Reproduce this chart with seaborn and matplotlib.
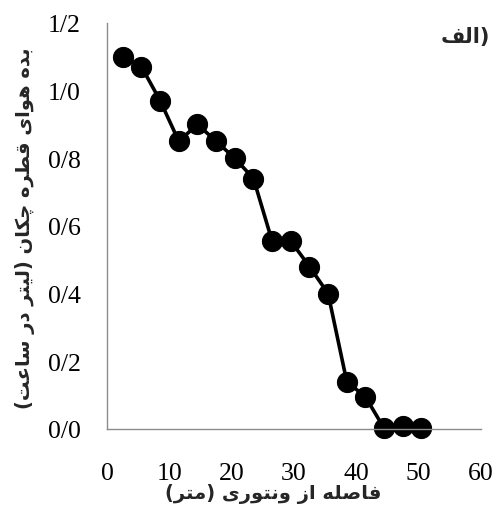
"""
emitter discharge vs distance from venturi
"""

import seaborn as sns
import matplotlib.pyplot as plt
from matplotlib.ticker import FuncFormatter, MultipleLocator

# data
distance_m = [2.5, 5.5, 8.5, 11.5, 14.5, 17.5, 20.5, 23.5, 26.5,
              29.5, 32.5, 35.5, 38.5, 41.5, 44.5, 47.5, 50.5]
discharge_lph = [1.10, 1.07, 0.97, 0.85, 0.90, 0.85, 0.80, 0.74, 0.555,
                 0.555, 0.48, 0.40, 0.14, 0.095, 0.002, 0.01, 0.002]

x_label = 'فاصله از ونتوری (متر)'
y_label = 'بده هوای قطره چکان (لیتر در ساعت)'
panel_label = 'الف'

axis_grey = '#8c8c8c'

# Arabic presentation forms: isolated, final, initial, medial
forms = {
    'ا': (0xFE8D, 0xFE8E, None, None),
    'ب': (0xFE8F, 0xFE90, 0xFE91, 0xFE92),
    'ت': (0xFE95, 0xFE96, 0xFE97, 0xFE98),
    'د': (0xFEA9, 0xFEAA, None, None),
    'ر': (0xFEAD, 0xFEAE, None, None),
    'ز': (0xFEAF, 0xFEB0, None, None),
    'س': (0xFEB1, 0xFEB2, 0xFEB3, 0xFEB4),
    'ص': (0xFEB9, 0xFEBA, 0xFEBB, 0xFEBC),
    'ط': (0xFEC1, 0xFEC2, 0xFEC3, 0xFEC4),
    'ع': (0xFEC9, 0xFECA, 0xFECB, 0xFECC),
    'ف': (0xFED1, 0xFED2, 0xFED3, 0xFED4),
    'ق': (0xFED5, 0xFED6, 0xFED7, 0xFED8),
    'ک': (0xFB8E, 0xFB8F, 0xFB90, 0xFB91),
    'ل': (0xFEDD, 0xFEDE, 0xFEDF, 0xFEE0),
    'م': (0xFEE1, 0xFEE2, 0xFEE3, 0xFEE4),
    'ن': (0xFEE5, 0xFEE6, 0xFEE7, 0xFEE8),
    'ه': (0xFEE9, 0xFEEA, 0xFEEB, 0xFEEC),
    'و': (0xFEED, 0xFEEE, None, None),
    'ی': (0xFBFC, 0xFBFD, 0xFBFE, 0xFBFF),
    'چ': (0xFB7A, 0xFB7B, 0xFB7C, 0xFB7D),
}


def rtl(text):
    # shape letters and put them in visual (left to right) order
    out = []
    for i, c in enumerate(text):
        if c not in forms:
            out.append(c)
            continue
        prev = text[i - 1] if i > 0 else None
        nxt = text[i + 1] if i + 1 < len(text) else None
        join_prev = prev in forms and forms[prev][2] is not None
        join_next = nxt in forms and forms[c][2] is not None
        isol, fin, init, medi = forms[c]
        if join_prev and join_next:
            g = medi
        elif join_prev:
            g = fin
        elif join_next:
            g = init
        else:
            g = isol
        out.append(chr(g))
    vis = ''.join(out)[::-1]
    return vis.translate(str.maketrans('()', ')('))


sns.set_style('white')
plt.rcParams['font.family'] = ['Liberation Serif', 'DejaVu Sans']

fig = plt.figure(figsize=(5.02, 5.10), dpi=100)
ax = fig.add_axes([0.2137, 0.1569, 0.7435, 0.7964])

sns.lineplot(x=distance_m, y=discharge_lph, ax=ax, color='black',
             linewidth=2.6, marker='o', markersize=14.5,
             markeredgecolor='black', markerfacecolor='black')
for ln in ax.lines:
    ln.set_clip_on(False)

ax.set_xlim(0, 60)
ax.set_ylim(0, 1.2)
ax.xaxis.set_major_locator(MultipleLocator(10))
ax.yaxis.set_major_locator(MultipleLocator(0.2))
ax.yaxis.set_major_formatter(FuncFormatter(lambda v, p: f'{v:.1f}'.replace('.', '/')))

for side in ['top', 'right']:
    ax.spines[side].set_visible(False)
for side in ['left', 'bottom']:
    ax.spines[side].set_color(axis_grey)
    ax.spines[side].set_linewidth(1.0)

ax.tick_params(axis='both', direction='out', length=6, width=1.0,
               color=axis_grey, labelsize=18.5, labelcolor='black')
ax.tick_params(axis='y', pad=13)
ax.tick_params(axis='x', pad=18)
ax.set_xlabel('')
ax.set_ylabel('')

fig.text(273 / 502, 1 - 494 / 510, rtl(x_label), ha='center', va='center',
         fontsize=14, fontweight='bold', family='DejaVu Sans')
fig.text(25 / 502, 1 - 228 / 510, rtl(y_label), ha='center', va='center',
         rotation=90, fontsize=14, fontweight='bold', family='DejaVu Sans')
fig.text(465 / 502, 1 - 37 / 510, rtl(panel_label) + ')', ha='center', va='center',
         fontsize=15, fontweight='bold', family='DejaVu Sans')

plt.savefig('out.png', dpi=100)
plt.close()
